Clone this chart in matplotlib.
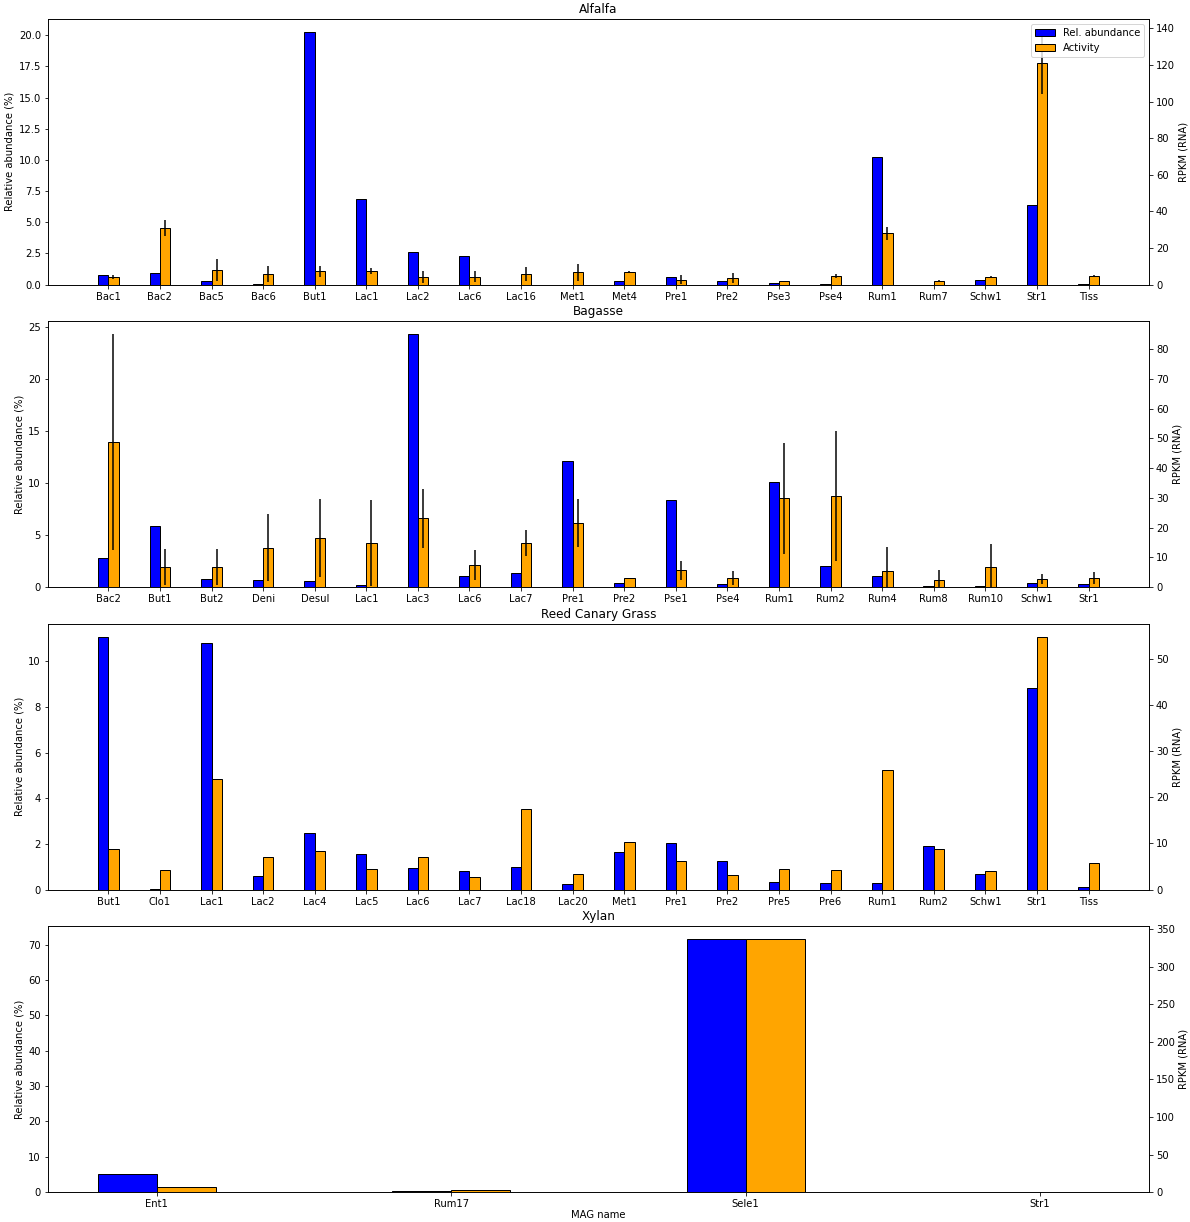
import matplotlib
matplotlib.use("Agg")
import matplotlib.pyplot as plt
import numpy as np

# Alfalfa
alf_names = ["Bac1", "Bac2", "Bac5", "Bac6", "But1", "Lac1", "Lac2", "Lac6", "Lac16", "Met1",
             "Met4", "Pre1", "Pre2", "Pse3", "Pse4", "Rum1", "Rum7", "Schw1", "Str1", "Tiss"]
alf_abund = [0.75, 0.9, 0.25, 0.08, 20.3, 6.85, 2.6, 2.33, 0.0, 0.0,
             0.25, 0.62, 0.25, 0.12, 0.07, 10.22, 0.0, 0.33, 6.35, 0.03]
alf_rpkm = [4.2, 30.8, 8.2, 5.6, 7.3, 7.3, 4.2, 4.2, 5.8, 6.7,
            7.1, 2.7, 3.6, 1.8, 4.9, 27.9, 2.0, 4.2, 121.2, 4.9]
alf_err = [1.0, 4.5, 6.0, 4.3, 3.0, 1.5, 3.4, 3.0, 3.9, 4.6,
           0.3, 2.4, 2.8, 0.3, 1.1, 3.3, 0.3, 0.6, 17.0, 0.4]

# Bagasse
bag_names = ["Bac2", "But1", "But2", "Deni", "Desul", "Lac1", "Lac3", "Lac6", "Lac7", "Pre1",
             "Pre2", "Pse1", "Pse4", "Rum1", "Rum2", "Rum4", "Rum8", "Rum10", "Schw1", "Str1"]
bag_abund = [2.81, 5.82, 0.77, 0.7, 0.58, 0.19, 24.3, 1.08, 1.34, 12.08,
             0.38, 8.37, 0.32, 10.1, 1.98, 1.03, 0.13, 0.1, 0.38, 0.26]
bag_rpkm = [48.6, 6.7, 6.7, 13.2, 16.5, 14.8, 23.05, 7.4, 14.8, 21.5,
            2.9, 5.6, 3.1, 29.8, 30.6, 5.4, 2.45, 6.7, 2.7, 3.1]
bag_err = [36.3, 6.0, 6.1, 11.2, 13.0, 14.3, 10.0, 4.9, 4.4, 8.0,
           0.3, 3.1, 2.3, 18.7, 21.7, 8.0, 3.2, 7.8, 1.8, 2.0]

# Reed Canary Grass
rcg_names = ["But1", "Clo1", "Lac1", "Lac2", "Lac4", "Lac5", "Lac6", "Lac7", "Lac18", "Lac20",
             "Met1", "Pre1", "Pre2", "Pre5", "Pre6", "Rum1", "Rum2", "Schw1", "Str1", "Tiss"]
rcg_abund = [11.09, 0.03, 10.8, 0.6, 2.46, 1.56, 0.95, 0.83, 0.98, 0.23,
             1.65, 2.02, 1.27, 0.31, 0.28, 0.28, 1.91, 0.7, 8.83, 0.1]
rcg_rpkm = [8.87, 4.26, 23.9, 7.0, 8.3, 4.55, 7.0, 2.67, 17.4, 3.4,
            10.3, 6.1, 3.25, 4.55, 4.26, 25.9, 8.7, 4.1, 54.9, 5.8]
rcg_err = None

# Xylan
xyl_names = ["Ent1", "Rum17", "Sele1", "Str1"]
xyl_abund = [5.1, 0.35, 71.6, 0.1]
xyl_rpkm = [6.2, 3.3, 337.0, 0.5]
xyl_err = None

panels = [
    ("Alfalfa", alf_names, alf_abund, alf_rpkm, alf_err),
    ("Bagasse", bag_names, bag_abund, bag_rpkm, bag_err),
    ("Reed Canary Grass", rcg_names, rcg_abund, rcg_rpkm, rcg_err),
    ("Xylan", xyl_names, xyl_abund, xyl_rpkm, xyl_err),
]

fig, axes = plt.subplots(4, 1, figsize=(1190 / 72, 1222 / 72), dpi=72)
width = 0.2

for i, (title, names, abund, rpkm, err) in enumerate(panels):
    ax = axes[i]
    x = np.arange(len(names))
    ax2 = ax.twinx()
    b1 = ax.bar(x, abund, width=-width, align="edge", color="blue",
                edgecolor="black", linewidth=1, label="Rel. abundance")
    b2 = ax2.bar(x, rpkm, width=width, align="edge", color="orange",
                 edgecolor="black", linewidth=1, label="Activity")
    if err is not None:
        ax2.errorbar(x + width / 2, rpkm, yerr=err, fmt="none",
                     ecolor="black", elinewidth=1.5, capsize=0)
    ax2.set_ylim(bottom=0)
    ax.set_ylim(bottom=0)
    ax.set_xticks(x)
    ax.set_xticklabels(names)
    ax.set_ylabel("Relative abundance (%)")
    ax2.set_ylabel("RPKM (RNA)")
    ax.set_title(title)
    if i == 0:
        ax2.legend([b1, b2], ["Rel. abundance", "Activity"], loc="upper right")
    if i == 3:
        ax.set_xlabel("MAG name", labelpad=1)

fig.subplots_adjust(left=0.0403, right=0.9655, top=0.9845, bottom=0.0245, hspace=0.139)
fig.savefig("out.png", dpi=72)
